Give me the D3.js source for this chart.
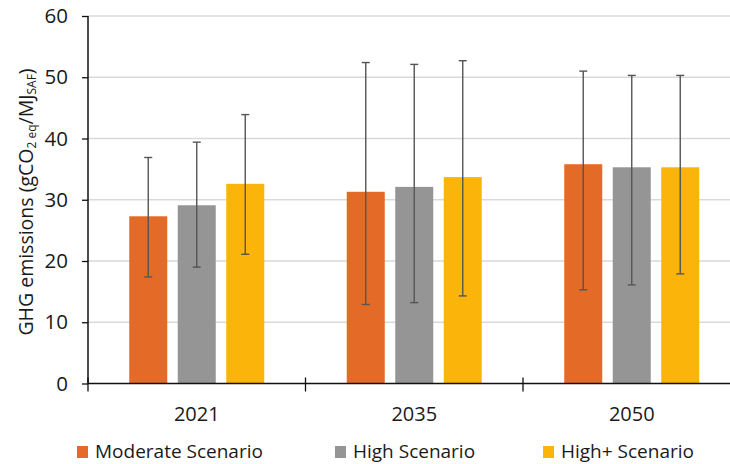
<!DOCTYPE html>
<html lang="en">
<head>
    <meta charset="UTF-8">
    <title>GHG emissions by scenario</title>
    <script src="https://d3js.org/d3.v7.min.js"></script>
    <style>
        body { margin: 0; background: #fff; font-family: "Open Sans", sans-serif; }
        .grid line { stroke: #d9d9d9; stroke-width: 1.3; }
        .tick text { fill: #1a1a1a; }
    </style>
</head>
<body>
    <div id="chart"></div>
    <script>
        const years = ["2021", "2035", "2050"];
        const seriesNames = ["Moderate Scenario", "High Scenario", "High+ Scenario"];
        const seriesColors = ["#e46a27", "#959595", "#fbb40a"];
        const moderate = [27.3, 31.3, 35.8];
        const high = [29.1, 32.1, 35.3];
        const highPlus = [32.6, 33.7, 35.3];
        const moderateLow = [17.4, 12.9, 15.3];
        const moderateHigh = [36.9, 52.4, 51.0];
        const highLow = [19.0, 13.2, 16.1];
        const highHigh = [39.4, 52.1, 50.3];
        const highPlusLow = [21.1, 14.3, 17.9];
        const highPlusHigh = [43.9, 52.7, 50.3];
        const yTicks = [0, 10, 20, 30, 40, 50, 60];

        const width = 730, height = 464;
        const margin = { top: 16, left: 88, bottom: 80.5 };
        const plotBottom = height - margin.bottom;
        const font = "'Open Sans', sans-serif";

        const svg = d3.select("#chart").append("svg")
            .attr("width", width).attr("height", height);

        const x0 = d3.scaleBand().domain(years).range([margin.left, margin.left + 3 * 217.5]);
        const x1 = d3.scalePoint().domain(seriesNames).range([-48.5, 48.5]);
        const y = d3.scaleLinear().domain([0, 60]).range([plotBottom, margin.top]);
        const color = d3.scaleOrdinal().domain(seriesNames).range(seriesColors);

        const rows = [];
        const vals = [moderate, high, highPlus];
        const lows = [moderateLow, highLow, highPlusLow];
        const highs = [moderateHigh, highHigh, highPlusHigh];
        years.forEach((yr, i) => {
            seriesNames.forEach((s, j) => {
                rows.push({ year: yr, series: s, value: vals[j][i], lo: lows[j][i], hi: highs[j][i] });
            });
        });

        // gridlines
        svg.append("g").attr("class", "grid")
            .selectAll("line").data(yTicks.filter(d => d > 0)).enter().append("line")
            .attr("x1", margin.left).attr("x2", width)
            .attr("y1", d => y(d)).attr("y2", d => y(d));

        // bars
        const barW = 38;
        svg.append("g").selectAll("rect").data(rows).enter().append("rect")
            .attr("x", d => x0(d.year) + x0.bandwidth() / 2 + x1(d.series) - barW / 2)
            .attr("y", d => y(d.value))
            .attr("width", barW)
            .attr("height", d => y(0) - y(d.value))
            .attr("fill", d => color(d.series));

        // error bars
        const eb = svg.append("g").attr("stroke", "#555").attr("stroke-width", 1.4);
        rows.forEach(d => {
            const cx = x0(d.year) + x0.bandwidth() / 2 + x1(d.series);
            eb.append("line").attr("x1", cx).attr("x2", cx).attr("y1", y(d.lo)).attr("y2", y(d.hi));
            [d.lo, d.hi].forEach(v => {
                eb.append("line").attr("x1", cx - 4).attr("x2", cx + 4).attr("y1", y(v)).attr("y2", y(v));
            });
        });

        // y axis
        const yAxis = svg.append("g")
            .attr("transform", `translate(${margin.left},0)`)
            .call(d3.axisLeft(y).tickValues(yTicks).tickSize(6).tickPadding(14));
        yAxis.select(".domain").attr("stroke", "#111").attr("stroke-width", 1.5).attr("d", `M0,${margin.top}V${plotBottom}`);
        yAxis.selectAll(".tick line").attr("stroke", "#111").attr("stroke-width", 1.3);
        yAxis.selectAll(".tick text").style("font-size", "20.5px").style("font-family", font);

        // x axis
        const xa = svg.append("g").attr("transform", `translate(0,${plotBottom})`);
        xa.append("line").attr("x1", margin.left).attr("x2", width).attr("y1", 0).attr("y2", 0)
            .attr("stroke", "#111").attr("stroke-width", 1.5);
        const bounds = years.map(d => x0(d));
        xa.selectAll(".sep").data(bounds).enter().append("line")
            .attr("x1", d => d).attr("x2", d => d).attr("y1", -6).attr("y2", 8)
            .attr("stroke", "#111").attr("stroke-width", 1.3);
        xa.selectAll(".lbl").data(years).enter().append("text")
            .attr("x", d => x0(d) + x0.bandwidth() / 2)
            .attr("y", 37)
            .attr("text-anchor", "middle")
            .style("font-size", "20px")
            .attr("fill", "#1a1a1a")
            .text(d => d);

        // y title
        const title = svg.append("text")
            .attr("transform", "translate(33,202) rotate(-90)")
            .attr("text-anchor", "middle")
            .style("font-size", "19.5px")
            .attr("fill", "#1a1a1a");
        title.append("tspan").text("GHG emissions (gCO");
        title.append("tspan").attr("baseline-shift", "-25%").style("font-size", "12px").text("2 eq");
        title.append("tspan").text("/MJ");
        title.append("tspan").attr("baseline-shift", "-25%").style("font-size", "12px").text("SAF");
        title.append("tspan").text(")");

        // legend
        const legendX = [77, 335, 543];
        const legend = svg.append("g");
        seriesNames.forEach((s, i) => {
            legend.append("rect").attr("x", legendX[i]).attr("y", 446).attr("width", 11).attr("height", 12)
                .attr("fill", color(s));
            legend.append("text").attr("x", legendX[i] + 18).attr("y", 457.5)
                .style("font-size", "19px").attr("fill", "#1a1a1a").text(s);
        });
    </script>
</body>
</html>
